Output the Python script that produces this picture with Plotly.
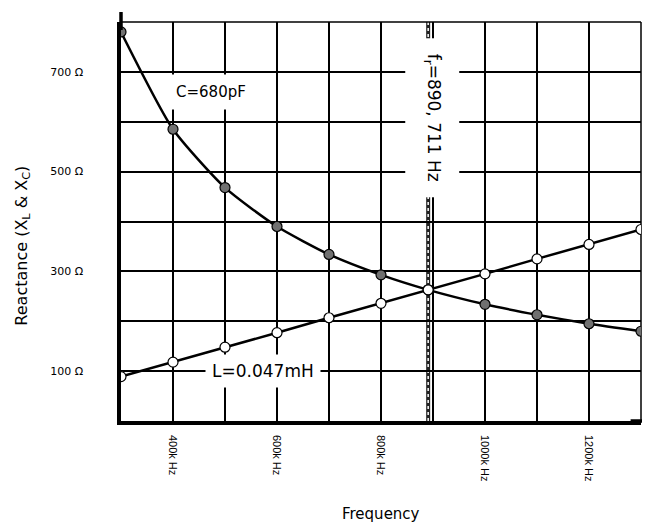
import plotly.graph_objects as go

# Data
freq_khz = [300, 400, 500, 600, 700, 800, 890.711, 1000, 1100, 1200, 1300]
xc_ohm = [780, 585, 468, 390, 334, 293, 263, 234, 213, 195, 180]
xl_ohm = [89, 118, 148, 177, 207, 236, 263, 295, 325, 354, 384]
f_res = 890.711

x_tickvals = [400, 600, 800, 1000, 1200]
x_ticktext = ["400k Hz", "600k Hz", "800k Hz", "1000k Hz", "1200k Hz"]
y_tickvals = [100, 300, 500, 700]
y_ticktext = ["100 Ω", "300 Ω", "500 Ω", "700 Ω"]

FONT = "DejaVu Sans, Verdana, sans-serif"
TICKFONT = "Liberation Sans, Arial, sans-serif"

fig = go.Figure()
fig.add_trace(go.Scatter(
    x=freq_khz, y=xc_ohm, mode="lines+markers",
    line=dict(color="black", width=2.5, shape="spline", smoothing=0.6),
    marker=dict(size=10, color="#707070", line=dict(color="black", width=1.2)),
    showlegend=False, hoverinfo="skip"))
fig.add_trace(go.Scatter(
    x=freq_khz, y=xl_ohm, mode="lines+markers",
    line=dict(color="black", width=2.5),
    marker=dict(size=10, color="white", line=dict(color="black", width=1.2)),
    showlegend=False, hoverinfo="skip"))

shapes = [
    dict(type="line", xref="x", yref="paper", x0=f_res, x1=f_res, y0=0, y1=1,
         line=dict(color="#222", width=4), layer="between"),
    dict(type="line", xref="x", yref="paper", x0=f_res, x1=f_res, y0=0, y1=1,
         line=dict(color="white", width=1.5, dash="dot"), layer="between"),
    dict(type="line", xref="paper", yref="paper", x0=0, x1=1.0, y0=1, y1=1,
         line=dict(color="black", width=1.5), layer="between"),
    dict(type="line", xref="paper", yref="paper", x0=1, x1=1, y0=0, y1=1,
         line=dict(color="black", width=1.5), layer="between"),
    dict(type="line", xref="paper", yref="paper", x0=0, x1=0, y0=0.98, y1=1.025,
         line=dict(color="black", width=3.5), layer="above"),
    dict(type="line", xref="paper", yref="paper", x0=0.98, x1=1.03, y0=0, y1=0,
         line=dict(color="black", width=3.5), layer="above"),
]

annotations = [
    dict(x=473, y=660, xref="x", yref="y", text="C=680pF", showarrow=False,
         font=dict(family=FONT, size=15, color="black"), bgcolor="white", borderpad=8),
    dict(x=573, y=100, xref="x", yref="y", text="L=0.047mH", showarrow=False,
         font=dict(family=FONT, size=17, color="black"), bgcolor="white", borderpad=6),
    dict(x=899, y=607, xref="x", yref="y", text="f<sub>r</sub>=890, 711 Hz",
         showarrow=False, textangle=90,
         font=dict(family=FONT, size=17, color="black"), bgcolor="white", borderpad=15),
    dict(x=0.5, y=-0.233, xref="paper", yref="paper", text="Frequency",
         showarrow=False, yanchor="middle",
         font=dict(family=FONT, size=15, color="black")),
    dict(x=-0.19, y=0.44, xref="paper", yref="paper",
         text="Reactance (X<sub>L</sub> & X<sub>C</sub>)", showarrow=False,
         textangle=-90, xanchor="center", yanchor="middle",
         font=dict(family=FONT, size=16, color="black")),
]

# The page body has an 8px margin, so the figure is sized to fit inside it.
fig.update_layout(
    width=642, height=515,
    margin=dict(l=113, r=9, t=14, b=102),
    paper_bgcolor="white", plot_bgcolor="white",
    shapes=shapes, annotations=annotations,
    xaxis=dict(range=[300, 1300], tickvals=x_tickvals, ticktext=x_ticktext,
               tickangle=90, showline=True, linecolor="black", linewidth=3.5,
               showgrid=True, gridcolor="black", gridwidth=1.5, zeroline=False,
               ticks="", ticklabelstandoff=8,
               tickfont=dict(family=TICKFONT, size=11, color="black"),
               minor=dict(dtick=100, tick0=300, showgrid=True, gridcolor="black",
                          gridwidth=1.5, ticks="")),
    yaxis=dict(range=[0, 800], tickvals=y_tickvals, ticktext=y_ticktext,
               showline=True, linecolor="black", linewidth=3.5,
               showgrid=True, gridcolor="black", gridwidth=1.5, zeroline=False,
               ticks="", ticklabelstandoff=32,
               tickfont=dict(family=FONT, size=11, color="black"),
               minor=dict(dtick=100, tick0=0, showgrid=True, gridcolor="black",
                          gridwidth=1.5, ticks="")),
)

fig.write_html("out.html")
